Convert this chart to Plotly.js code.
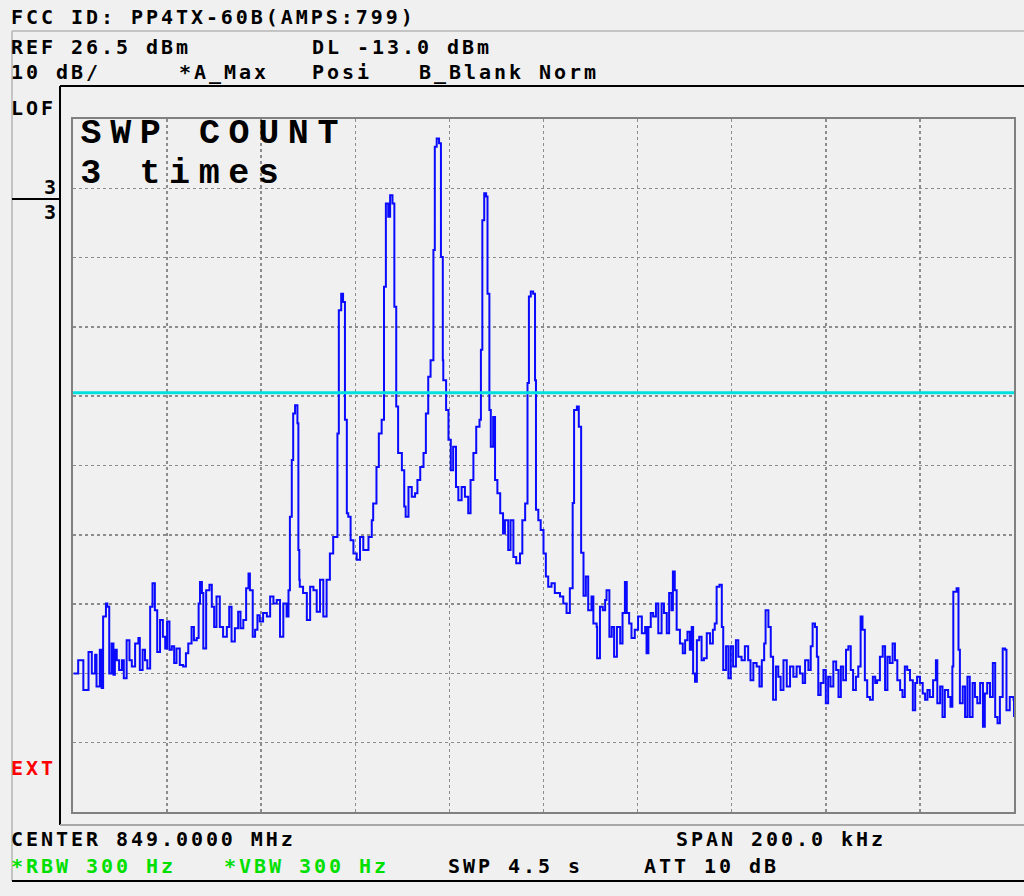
<!DOCTYPE html>
<html>
<head>
<meta charset="utf-8">
<script src="https://cdn.plot.ly/plotly-3.0.1.min.js"></script>
<style>
  html, body { margin: 0; padding: 0; background: #f0f0f0; }
  #chart { width: 1024px; height: 896px; }
  .annotation-text { letter-spacing: 2.95px; }
  .annotation[data-index="17"] .annotation-text,
  .annotation[data-index="18"] .annotation-text { letter-spacing: 8.6px; }
</style>
</head>
<body>
<div id="chart"></div>
<script>
// ---- Data (frequency offset from center in kHz, level in dBm) ----
const centerMHz = 849.0;
const spanKHz = 200.0;
const refLevel = 26.5;      // dBm, top of screen
const dbPerDiv = 10;
const displayLine = -13.0;  // dBm

const freqKHz = [
-99.9,-98.9,-97.8,-96.7,-96.0,-95.3,-95.0,-94.3,-93.9,-93.6,-93.0,-92.7,-92.3,-91.8,-91.4,-91.1,-90.7,-90.2,-89.6,-89.2,
-88.6,-88.0,-87.5,-86.8,-86.1,-85.8,-85.2,-84.7,-84.2,-83.6,-83.1,-82.6,-82.1,-81.5,-80.9,-80.4,-80.0,-79.5,-79.0,-78.5,
-78.0,-77.3,-76.6,-76.0,-75.5,-74.8,-74.3,-73.7,-73.3,-73.0,-72.6,-72.3,-71.7,-71.0,-70.5,-70.0,-69.5,-68.8,-68.1,-67.3,
-66.8,-66.3,-65.6,-64.9,-64.4,-63.8,-63.2,-62.7,-62.4,-61.8,-61.3,-60.8,-60.3,-59.6,-58.8,-58.1,-57.4,-56.7,-56.0,-55.3,
-54.6,-54.2,-53.9,-53.5,-53.2,-52.8,-52.3,-52.1,-51.9,-51.8,-51.1,-50.3,-49.6,-48.9,-48.2,-47.5,-46.8,-46.1,-45.4,-44.7,
-44.0,-43.8,-43.5,-43.0,-42.6,-42.2,-41.8,-41.5,-41.0,-40.4,-39.7,-39.0,-38.3,-37.2,-36.5,-36.2,-35.5,-35.0,-34.4,-33.9,
-33.5,-33.0,-32.6,-32.1,-31.7,-31.3,-30.9,-30.1,-29.6,-29.3,-28.7,-28.0,-27.3,-26.8,-26.2,-25.5,-25.0,-24.5,-24.0,-23.4,
-23.1,-22.7,-22.2,-21.8,-21.4,-21.3,-20.7,-20.2,-19.7,-19.2,-18.6,-18.1,-17.4,-16.7,-16.0,-15.5,-14.9,-14.3,-13.6,-13.3,
-13.0,-12.6,-12.2,-11.9,-11.5,-11.2,-10.7,-10.3,-9.8,-9.2,-8.6,-8.2,-7.5,-7.0,-6.4,-5.8,-5.0,-4.5,-3.9,-3.4,
-3.1,-2.7,-2.2,-1.8,-1.6,-1.1,-0.6,0.0,0.5,1.0,1.7,2.4,3.5,4.2,4.9,5.6,6.2,6.5,7.1,7.5,
8.0,8.5,9.0,9.5,10.2,10.6,11.3,11.4,12.0,12.6,13.1,13.4,14.0,14.5,15.0,15.6,16.3,16.8,17.3,17.7,
18.2,18.7,19.4,20.1,20.9,21.6,21.9,22.3,22.8,23.3,23.9,24.4,25.1,25.6,26.2,26.7,27.2,27.5,27.9,28.3,
29.0,29.6,30.1,30.6,31.1,31.5,31.8,32.2,32.6,33.1,33.6,34.1,34.7,35.4,36.0,36.4,36.8,37.4,37.9,38.2,
38.8,39.3,39.8,40.3,40.9,41.4,42.1,42.8,43.5,44.0,44.6,45.3,45.9,46.4,46.9,47.2,47.8,48.3,48.8,49.4,
49.9,50.4,51.0,51.7,52.4,53.1,53.8,54.5,55.1,55.6,56.3,56.8,57.2,57.7,58.1,58.4,58.9,59.5,60.0,60.5,
61.0,61.6,62.2,62.7,63.2,63.7,64.3,64.8,65.3,65.8,66.4,66.9,67.4,67.8,68.3,68.8,69.4,70.0,70.5,70.9,
71.5,72.1,72.6,73.1,73.6,74.2,74.7,75.2,75.8,76.3,76.8,77.3,77.9,78.5,79.0,79.4,80.0,80.6,81.1,81.6,
82.1,82.8,83.4,83.7,84.3,84.8,85.3,86.0,86.5,86.9,87.1,87.8,88.2,88.5,89.1,89.6,90.1,90.6,91.2,91.7,
92.2,92.8,93.4,93.8,94.3,94.9,95.5,96.0,96.5,97.0,97.6,98.1,98.4,99.1,99.9,100.0
];

const levelDBm = [
-53.5,-51.6,-55.9,-50.4,-53.5,-50.8,-55.4,-50.1,-55.6,-45.3,-43.4,-43.9,-53.5,-49.2,-53.7,-50.1,-51.6,-53.0,-51.6,-54.2,
-48.7,-51.6,-52.5,-49.2,-48.4,-53.0,-50.1,-51.6,-52.8,-43.9,-40.5,-44.4,-50.4,-45.8,-48.2,-49.9,-46.0,-50.1,-49.6,-52.0,
-49.9,-52.3,-52.5,-50.6,-49.2,-46.8,-48.7,-48.4,-43.4,-40.3,-41.9,-49.9,-41.5,-40.7,-43.9,-46.8,-42.4,-46.8,-48.2,-46.8,
-43.9,-48.9,-47.0,-44.6,-47.0,-45.8,-41.2,-39.1,-41.5,-48.2,-47.2,-45.1,-46.0,-44.8,-45.3,-42.4,-43.4,-42.9,-48.2,-43.4,
-45.3,-41.5,-30.9,-22.7,-16.0,-14.8,-17.4,-35.7,-40.0,-41.0,-41.9,-45.8,-41.0,-41.5,-44.6,-40.0,-45.3,-40.0,-36.2,-33.8,
-33.8,-18.9,-1.1,1.3,0.1,-16.9,-30.4,-30.9,-34.3,-36.2,-37.1,-33.8,-35.7,-33.8,-31.4,-29.0,-23.7,-18.9,-16.9,2.3,
14.3,12.4,15.5,14.3,-0.6,-15.0,-21.7,-24.2,-29.4,-30.9,-26.6,-28.0,-27.5,-25.6,-23.7,-21.7,-16.0,-10.7,-8.3,7.6,
22.5,23.7,23.0,6.6,-8.3,-11.2,-15.5,-19.8,-24.2,-20.8,-26.6,-28.5,-26.6,-28.0,-30.4,-25.6,-21.7,-17.9,-16.9,-6.8,
11.9,15.8,15.3,1.3,-15.5,-20.8,-16.5,-25.6,-27.5,-30.4,-33.3,-31.4,-35.7,-31.4,-36.7,-37.6,-36.2,-31.4,-29.0,-11.6,
0.9,1.6,1.3,-11.2,-29.9,-31.4,-32.8,-36.2,-39.5,-41.0,-40.5,-41.9,-42.4,-43.4,-44.8,-41.2,-28.9,-15.5,-15.0,-17.9,
-36.1,-42.3,-39.5,-44.4,-42.4,-46.3,-46.8,-51.3,-43.9,-44.4,-42.9,-41.5,-48.2,-46.8,-51.1,-46.8,-49.2,-44.8,-40.3,-44.8,
-46.3,-48.4,-47.2,-45.3,-47.7,-46.8,-50.6,-46.8,-44.8,-45.3,-43.4,-47.7,-43.4,-44.8,-47.7,-41.9,-44.4,-38.8,-41.5,-47.2,
-49.2,-50.6,-48.7,-47.5,-50.1,-46.8,-53.5,-54.7,-48.7,-48.2,-51.6,-51.3,-47.7,-49.2,-47.2,-46.3,-41.0,-40.7,-46.8,-53.0,
-49.6,-54.2,-49.6,-52.5,-48.7,-51.1,-51.6,-49.6,-51.6,-54.5,-52.0,-52.5,-55.4,-51.6,-49.2,-44.4,-46.8,-51.1,-57.3,-52.5,
-54.0,-55.9,-51.6,-55.4,-52.5,-54.0,-52.5,-53.5,-54.9,-51.6,-53.0,-49.6,-46.3,-46.8,-51.1,-56.6,-54.9,-53.0,-57.8,-54.0,
-55.4,-51.8,-53.0,-56.9,-52.5,-54.5,-50.1,-49.6,-53.0,-55.9,-54.0,-52.5,-45.3,-47.2,-54.5,-56.9,-57.3,-54.0,-54.9,-54.5,
-51.1,-49.6,-55.9,-51.1,-52.0,-49.2,-51.6,-54.5,-55.9,-56.9,-52.5,-53.0,-54.5,-58.8,-54.9,-54.0,-54.9,-56.4,-57.3,-55.9,
-56.9,-54.5,-51.6,-57.8,-55.4,-59.8,-55.9,-56.9,-58.3,-52.5,-41.7,-41.2,-50.1,-57.8,-55.4,-59.8,-54.0,-59.8,-54.9,-56.9,
-57.8,-54.9,-61.2,-56.4,-54.9,-56.9,-52.0,-59.8,-60.7,-56.9,-49.9,-50.1,-58.8,-56.9,-57.3,-59.8
];

// ---- Screen text ----
const headerTitle = "FCC ID: PP4TX-60B(AMPS:799)";
const refText = "REF 26.5 dBm";
const dlText = "DL -13.0 dBm";
const scaleText = "10 dB/";
const traceAText = "*A_Max";
const detText = "Posi";
const traceBText = "B_Blank Norm";
const centerText = "CENTER 849.0000 MHz";
const spanText = "SPAN 200.0 kHz";
const rbwText = "*RBW 300 Hz";
const vbwText = "*VBW 300 Hz";
const swpText = "SWP 4.5 s";
const attText = "ATT 10 dB";
const swpCountLines = ["SWP COUNT", "3 times"];

// ---- Geometry helpers (screen pixels -> paper coords) ----
const W = 1024, H = 896;
const L = 73, R = 1014, T = 119, B = 812;
const px = x => (x - L) / (R - L);
const py = y => (B - y) / (B - T);

const mono = "DejaVu Sans Mono, Liberation Mono, monospace";
const hdrFont = {family: mono, size: 20, color: "#000000", weight: 600};
const serifMono = "Liberation Mono, Courier New, monospace";
const bigFont = {family: serifMono, size: 35, color: "#000000", weight: "bold"};
const bigPitch = 29.6;   // character pitch of the large sweep-count text, px

function ann(text, x, y, font, anchor) {
  return {text: text, xref: "paper", yref: "paper", x: px(x), y: py(y),
          xanchor: anchor || "left", yanchor: "middle", showarrow: false,
          font: font, borderpad: 0};
}
// large text: place by its centre so the extra letter spacing cannot shift it
function bigAnn(text, leftX, y) {
  const centre = leftX + (text.length * bigPitch - 8.6) / 2;
  return ann(text, centre, y, bigFont, "center");
}

const annotations = [
  ann(headerTitle, 10, 17, hdrFont),
  ann(refText, 10, 47, hdrFont),
  ann(dlText, 311, 47, hdrFont),
  ann(scaleText, 10, 72, hdrFont),
  ann(traceAText, 178, 72, hdrFont),
  ann(detText, 311, 72, hdrFont),
  ann(traceBText, 418, 72, hdrFont),
  ann("LOF", 10, 108, hdrFont),
  ann("3", 60, 187, hdrFont, "right"),
  ann("3", 60, 212, hdrFont, "right"),
  ann("EXT", 10, 768, Object.assign({}, hdrFont, {color: "#ff0000"})),
  ann(centerText, 10, 839, hdrFont),
  ann(spanText, 675, 839, hdrFont),
  ann(rbwText, 10, 866, Object.assign({}, hdrFont, {color: "#00e000"})),
  ann(vbwText, 223, 866, Object.assign({}, hdrFont, {color: "#00e000"})),
  ann(swpText, 447, 866, hdrFont),
  ann(attText, 643, 866, hdrFont),
  bigAnn(swpCountLines[0], 85, 134),   // index 17
  bigAnn(swpCountLines[1], 85, 174)    // index 18
];

function lineShape(x0, y0, x1, y1, color, width) {
  return {type: "line", xref: "paper", yref: "paper",
          x0: px(x0), y0: py(y0), x1: px(x1), y1: py(y1),
          line: {color: color, width: width}, layer: "above"};
}

const shapes = [
  lineShape(12, 31, 1024, 31, "#c4c4c4", 2),
  lineShape(12, 31, 12, 881, "#c4c4c4", 2),
  lineShape(60, 86, 1024, 86, "#000000", 2),
  lineShape(60, 86, 60, 825, "#000000", 2),
  lineShape(60, 825, 1024, 825, "#a8a8a8", 2),
  lineShape(12, 199, 60, 199, "#000000", 2),
  lineShape(12, 881, 1024, 881, "#000000", 2),
  {type: "line", xref: "paper", yref: "y", x0: 0, x1: 1,
   y0: displayLine, y1: displayLine,
   line: {color: "#00e0e0", width: 3}, layer: "above"}
];

const trace = {
  x: freqKHz, y: levelDBm, type: "scatter", mode: "lines",
  line: {color: "#0a0aff", width: 2, shape: "hv"},
  hoverinfo: "skip"
};

const layout = {
  width: W, height: H,
  margin: {l: L, r: W - R, t: T, b: H - B, pad: 0},
  paper_bgcolor: "#f0f0f0",
  plot_bgcolor: "#f0f0f0",
  showlegend: false,
  xaxis: {
    range: [-spanKHz / 2, spanKHz / 2], tick0: -spanKHz / 2, dtick: spanKHz / 10,
    showticklabels: false, ticks: "", zeroline: false,
    showgrid: true, gridcolor: "#8c8c8c", griddash: "dot", gridwidth: 1.5,
    showline: true, linecolor: "#808080", linewidth: 2, mirror: true, fixedrange: true
  },
  yaxis: {
    range: [refLevel - 10 * dbPerDiv, refLevel], tick0: refLevel, dtick: dbPerDiv,
    showticklabels: false, ticks: "", zeroline: false,
    showgrid: true, gridcolor: "#8c8c8c", griddash: "dot", gridwidth: 1.5,
    showline: true, linecolor: "#808080", linewidth: 2, mirror: true, fixedrange: true
  },
  shapes: shapes,
  annotations: annotations
};

Plotly.newPlot("chart", [trace], layout, {staticPlot: true, displayModeBar: false});
</script>
</body>
</html>
